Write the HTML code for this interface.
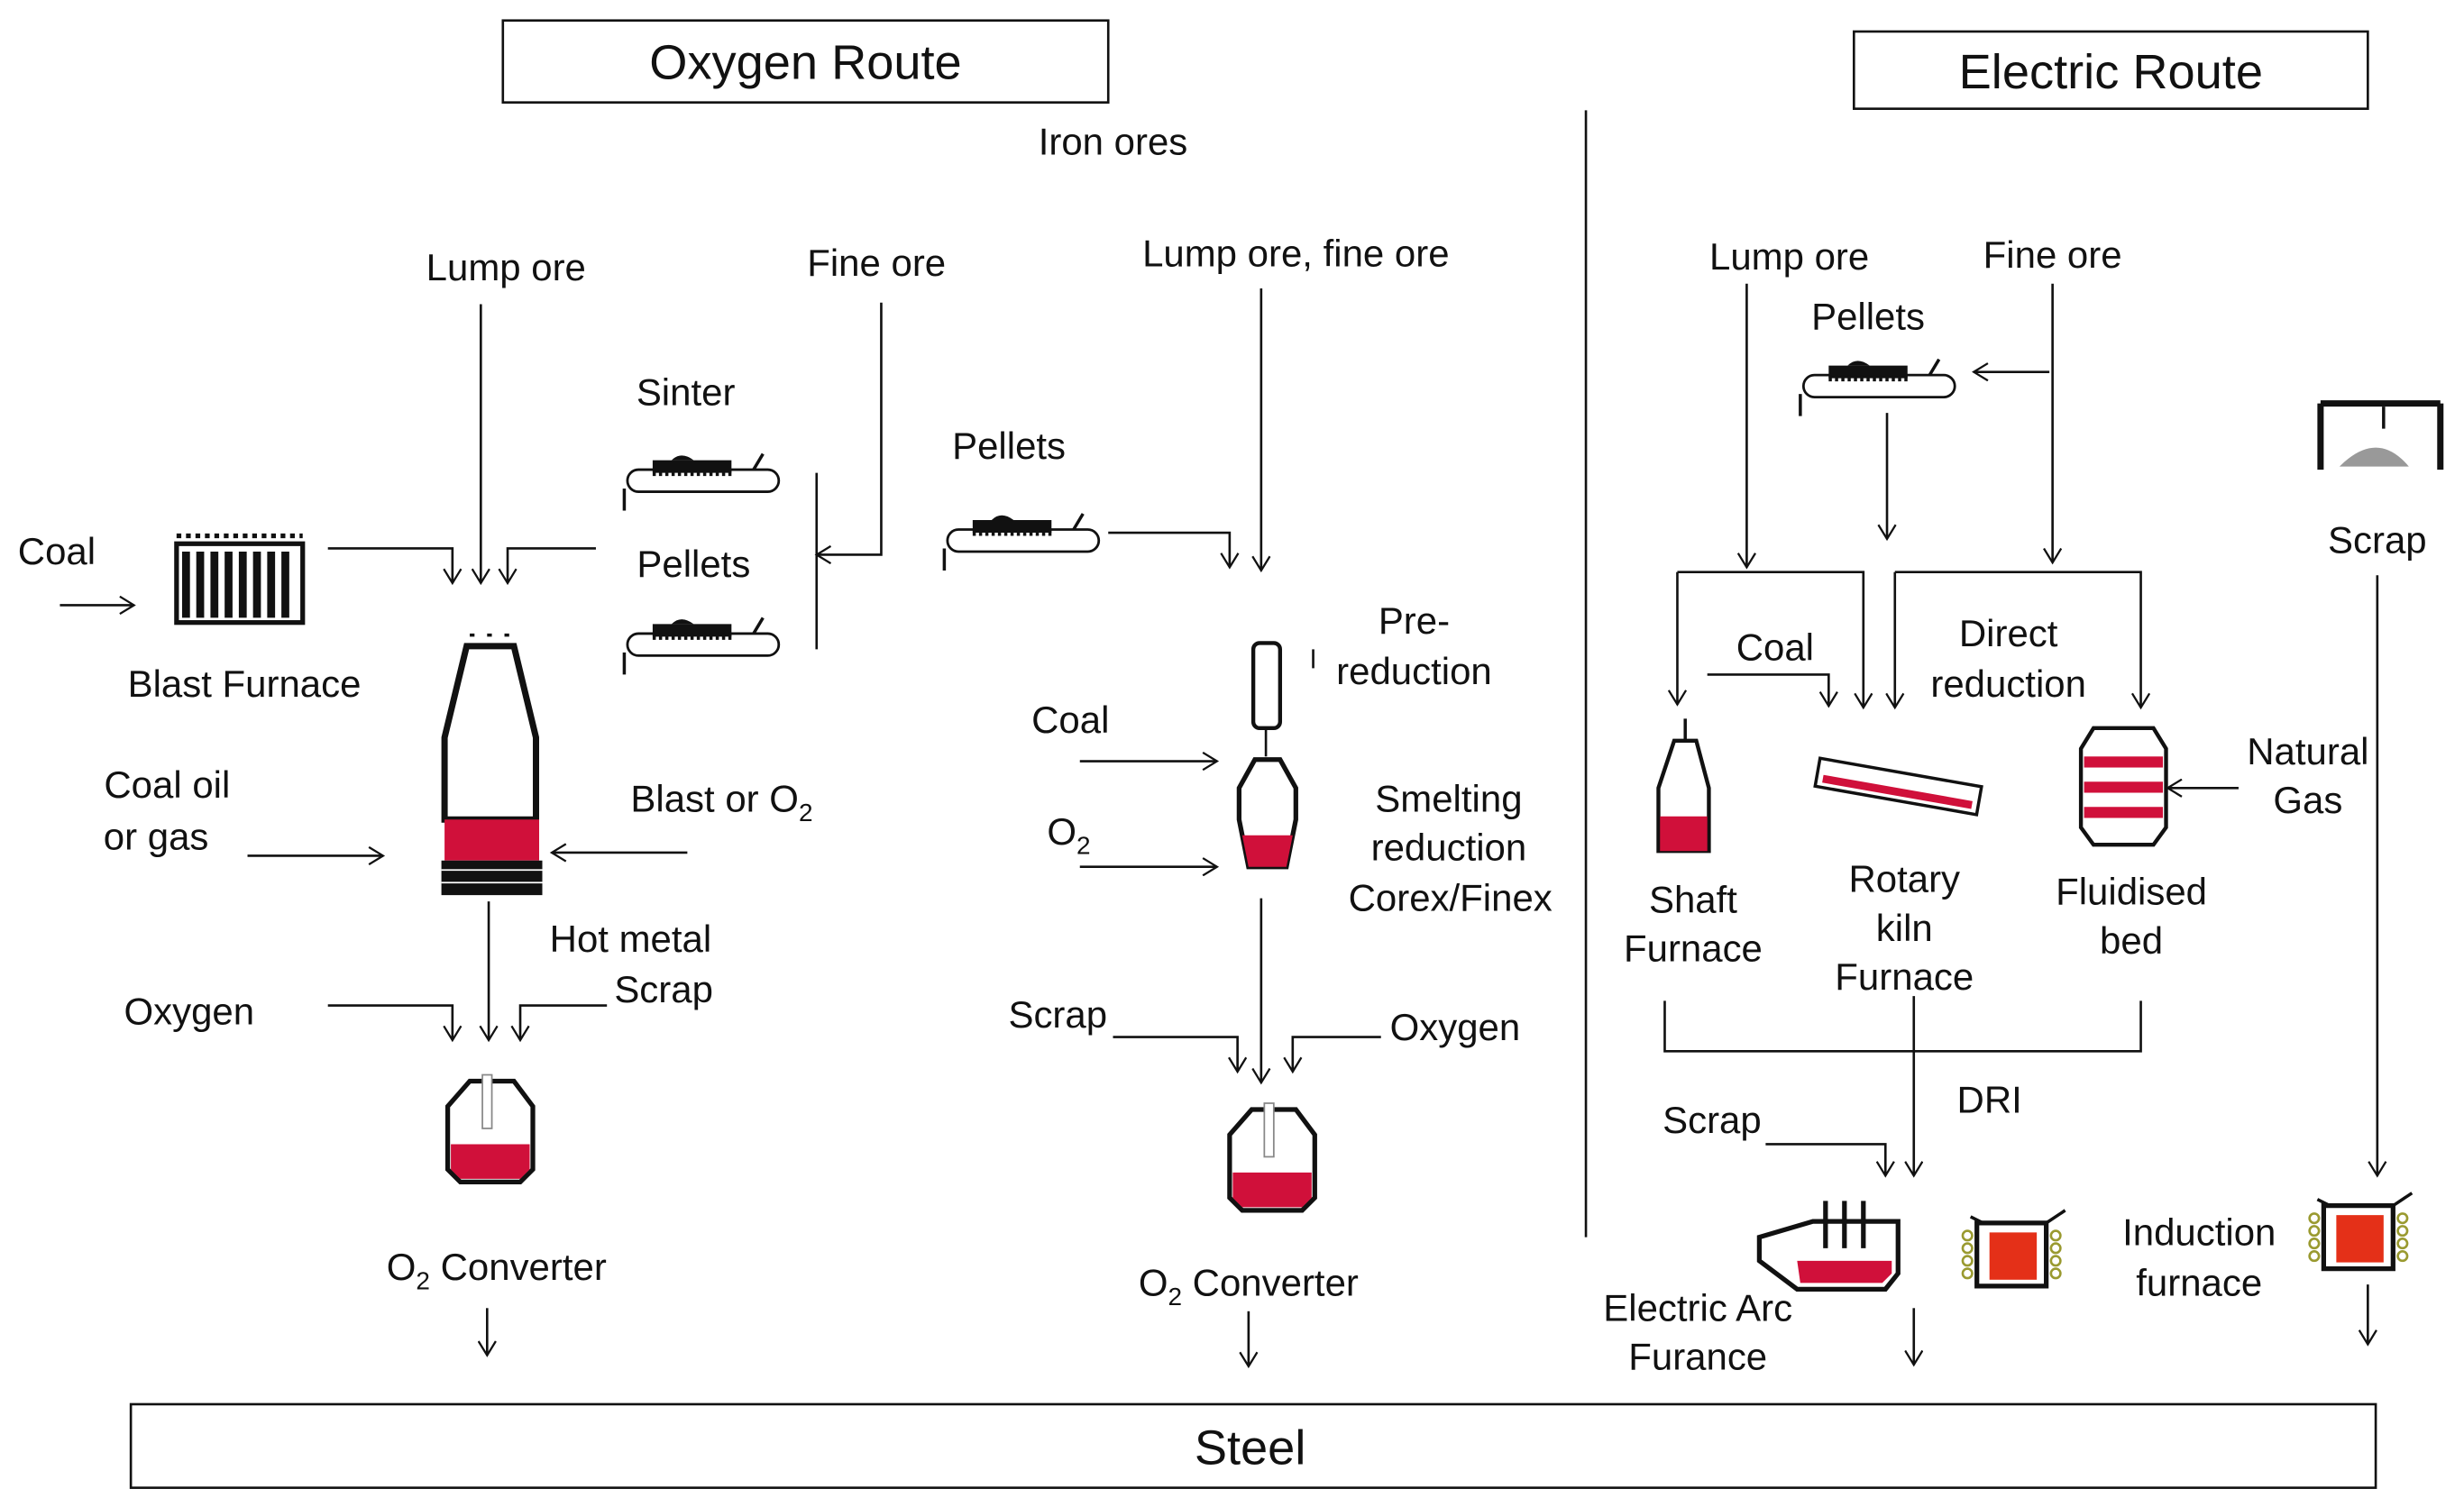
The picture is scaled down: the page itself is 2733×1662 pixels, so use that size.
<!DOCTYPE html>
<html><head><meta charset="utf-8"><style>
html,body{margin:0;padding:0;background:#fff;}
svg{display:block;}
text{font-family:"Liberation Sans",Arial,sans-serif;fill:#111;}
</style></head><body>
<svg width="2733" height="1662" viewBox="0 0 1563 950.5" preserveAspectRatio="none" xmlns="http://www.w3.org/2000/svg">
<defs>
<marker id="a" markerWidth="12" markerHeight="12" refX="10" refY="6" orient="auto" markerUnits="userSpaceOnUse">
<path d="M1,0.5 L10,6 L1,11.5" fill="none" stroke="#111" stroke-width="1.3"/>
</marker>
<g id="pel">
<rect x="4" y="18" width="96" height="14" rx="7" fill="none" stroke="#111" stroke-width="1.6"/>
<path d="M20,12 h50 v8 h-50z" fill="#111"/><path d="M32,12 q6,-6 14,0z" fill="#111"/>
<path d="M20,20 h50" stroke="#111" stroke-width="4" stroke-dasharray="2,2"/>
<path d="M84,18 l6,-10" stroke="#111" stroke-width="2"/>
<path d="M2,30 v14" stroke="#111" stroke-width="2"/>
</g>
<g id="conv">
<path d="M4,20 L18,4 L46,4 L58,20 L58,60 L50,68 L12,68 L4,60 Z" fill="#fff" stroke="#111" stroke-width="3"/>
<path d="M6,44 H56 V60 L50,66 H12 L6,60Z" fill="#d0103a"/>
<rect x="26" y="0" width="6" height="34" fill="#fff" stroke="#888" stroke-width="1"/>
</g>
<g id="ind">
<path d="M14,8 h44 v40 h-44z" fill="#fff" stroke="#111" stroke-width="3"/>
<rect x="22" y="14" width="30" height="30" fill="#e43018"/>
<path d="M10,4 l8,4 M58,8 l12,-8" stroke="#111" stroke-width="2"/>
<g fill="none" stroke="#9a9a30" stroke-width="1.5"><circle cx="8" cy="16" r="3"/><circle cx="8" cy="24" r="3"/><circle cx="8" cy="32" r="3"/><circle cx="8" cy="40" r="3"/><circle cx="64" cy="16" r="3"/><circle cx="64" cy="24" r="3"/><circle cx="64" cy="32" r="3"/><circle cx="64" cy="40" r="3"/></g>
</g>
</defs>
<g fill="none" stroke="#111" stroke-width="1.5">
<rect x="319" y="13" width="384" height="52"/>
<rect x="1176" y="20" width="326" height="49"/>
<rect x="83" y="891" width="1424" height="53"/>
<path d="M1006,70 V785"/>
</g>
<g font-size="31" text-anchor="middle">
<text x="511" y="50">Oxygen Route</text>
<text x="1339" y="56">Electric Route</text>
<text x="793" y="929">Steel</text>
</g>
<g font-size="24" text-anchor="middle">
<text x="706" y="98">Iron ores</text>
<text x="321" y="178">Lump ore</text>
<text x="556" y="175">Fine ore</text>
<text x="822" y="169">Lump ore, fine ore</text>
<text x="435" y="257">Sinter</text>
<text x="640" y="291">Pellets</text>
<text x="36" y="358">Coal</text>
<text x="440" y="366">Pellets</text>
<text x="155" y="442">Blast Furnace</text>
<text x="106" y="506">Coal oil</text>
<text x="99" y="539">or gas</text>
<text x="400" y="515" text-anchor="start">Blast or O<tspan font-size="16" dy="6">2</tspan></text>
<text x="400" y="604">Hot metal</text>
<text x="421" y="636">Scrap</text>
<text x="120" y="650">Oxygen</text>
<text x="315" y="812">O<tspan font-size="16" dy="6">2</tspan><tspan dy="-6"> Converter</tspan></text>
<text x="897" y="402">Pre-</text>
<text x="897" y="434">reduction</text>
<text x="679" y="465">Coal</text>
<text x="678" y="536">O<tspan font-size="16" dy="6">2</tspan></text>
<text x="919" y="515">Smelting</text>
<text x="919" y="546">reduction</text>
<text x="920" y="578">Corex/Finex</text>
<text x="671" y="652">Scrap</text>
<text x="923" y="660">Oxygen</text>
<text x="792" y="822">O<tspan font-size="16" dy="6">2</tspan><tspan dy="-6"> Converter</tspan></text>
<text x="1135" y="171">Lump ore</text>
<text x="1302" y="170">Fine ore</text>
<text x="1185" y="209">Pellets</text>
<text x="1508" y="351">Scrap</text>
<text x="1126" y="419">Coal</text>
<text x="1274" y="410">Direct</text>
<text x="1274" y="442">reduction</text>
<text x="1464" y="485">Natural</text>
<text x="1464" y="516">Gas</text>
<text x="1074" y="579">Shaft</text>
<text x="1074" y="610">Furnace</text>
<text x="1208" y="566">Rotary</text>
<text x="1208" y="597">kiln</text>
<text x="1208" y="628">Furnace</text>
<text x="1352" y="574">Fluidised</text>
<text x="1352" y="605">bed</text>
<text x="1262" y="706">DRI</text>
<text x="1086" y="719">Scrap</text>
<text x="1395" y="790">Induction</text>
<text x="1395" y="822">furnace</text>
<text x="1077" y="838">Electric Arc</text>
<text x="1077" y="869">Furance</text>
</g>
<g fill="none" stroke="#111" stroke-width="1.5" marker-end="url(#a)">
<path d="M38,384 H85"/>
<path d="M208,348 H287 V370"/>
<path d="M305,193 V370"/>
<path d="M378,348 H322 V370"/>
<path d="M559,192 V352 H518"/>
<path d="M157,543 H243"/>
<path d="M436,541 H350"/>
<path d="M310,572 V660"/>
<path d="M208,638 H287 V660"/>
<path d="M385,638 H330 V660"/>
<path d="M309,830 V860"/>
<path d="M703,338 H780 V360"/>
<path d="M800,183 V362"/>
<path d="M685,483 H772"/>
<path d="M685,550 H772"/>
<path d="M800,570 V687"/>
<path d="M706,658 H785 V680"/>
<path d="M876,658 H820 V680"/>
<path d="M792,832 V867"/>
<path d="M1108,180 V360"/>
<path d="M1302,180 V357"/>
<path d="M1300,236 H1252"/>
<path d="M1197,262 V342"/>
<path d="M1064,363 V447"/>
<path d="M1064,363 H1182 V449"/>
<path d="M1202,363 V449"/>
<path d="M1202,363 H1358 V449"/>
<path d="M1083,428 H1160 V448"/>
<path d="M1420,500 H1375"/>
<path d="M1214,632 V746"/>
<path d="M1120,726 H1196 V746"/>
<path d="M1214,830 V866"/>
<path d="M1502,815 V853"/>
<path d="M1508,365 V746"/>
</g>
<g fill="none" stroke="#111" stroke-width="1.5">
<path d="M1056,635 V667 H1358 V635"/>
<path d="M518,300 V412"/>
<path d="M803,462 V480"/>
<path d="M833,412 V424"/>
</g>
<!-- blast furnace grid -->
<g>
<rect x="112" y="345" width="80" height="50" fill="none" stroke="#111" stroke-width="3"/>
<path d="M112,340 H192" stroke="#111" stroke-width="3" stroke-dasharray="3,3"/>
<path d="M118,350 V392 M127,350 V392 M136,350 V392 M145,350 V392 M154,350 V392 M163,350 V392 M172,350 V392 M181,350 V392" stroke="#111" stroke-width="5"/>
</g>
<!-- blast furnace vessel -->
<g>
<path d="M296,410 H326 L340,468 V520 H282 V468 Z" fill="#fff" stroke="#111" stroke-width="4"/>
<path d="M298,403 h3 M309,403 h3 M320,403 h3" stroke="#111" stroke-width="2"/>
<rect x="282" y="520" width="60" height="26" fill="#d0103a"/>
<path d="M280,546 H344 V568 H280Z" fill="#111"/>
<path d="M280,552 H344 M280,560 H344" stroke="#fff" stroke-width="1"/>
</g>
<use href="#pel" x="394" y="280"/>
<use href="#pel" x="394" y="384"/>
<use href="#pel" x="597" y="318"/>
<use href="#pel" x="1140" y="220"/>
<use href="#conv" x="280" y="682"/>
<use href="#conv" x="776" y="700"/>
<!-- pre-reduction + smelter -->
<rect x="795" y="408" width="17" height="54" rx="4" fill="#fff" stroke="#111" stroke-width="2.5"/>
<path d="M796,482 H812 L822,500 V520 L816,550 H792 L786,520 V500Z" fill="#fff" stroke="#111" stroke-width="3"/>
<path d="M788,530 H820 L816,550 H792Z" fill="#d0103a"/>
<!-- shaft furnace -->
<path d="M1062,470 H1076 L1084,500 V540 H1052 V500Z" fill="#fff" stroke="#111" stroke-width="2.5"/>
<rect x="1053" y="518" width="30" height="22" fill="#d0103a"/>
<path d="M1069,456 V470" stroke="#111" stroke-width="2"/>
<!-- rotary kiln -->
<g transform="rotate(10 1204 500)">
<rect x="1152" y="490" width="104" height="18" fill="#fff" stroke="#111" stroke-width="2"/>
<rect x="1156" y="500" width="96" height="5" fill="#d0103a"/>
</g>
<!-- fluidised bed -->
<path d="M1328,462 H1366 L1374,475 V525 L1366,536 H1328 L1320,525 V475Z" fill="#fff" stroke="#111" stroke-width="2.5"/>
<rect x="1322" y="480" width="50" height="7" fill="#d0103a"/>
<rect x="1322" y="496" width="50" height="7" fill="#d0103a"/>
<rect x="1322" y="512" width="50" height="7" fill="#d0103a"/>
<!-- EAF -->
<path d="M1116,785 L1150,775 H1204 V808 L1196,818 H1140 L1116,800Z" fill="#fff" stroke="#111" stroke-width="3"/>
<path d="M1140,800 H1200 V808 L1194,814 H1142Z" fill="#d0103a"/>
<path d="M1158,762 V792 M1170,762 V792 M1182,762 V792" stroke="#111" stroke-width="3"/>
<use href="#ind" x="1240" y="768"/>
<use href="#ind" x="1460" y="757"/>
<!-- crane -->
<path d="M1472,256 H1548 M1472,256 V298 M1548,256 V298" stroke="#111" stroke-width="4"/>
<path d="M1512,258 V272" stroke="#111" stroke-width="2"/>
<path d="M1484,296 q24,-24 44,0z" fill="#999"/>
</svg>
</body></html>
